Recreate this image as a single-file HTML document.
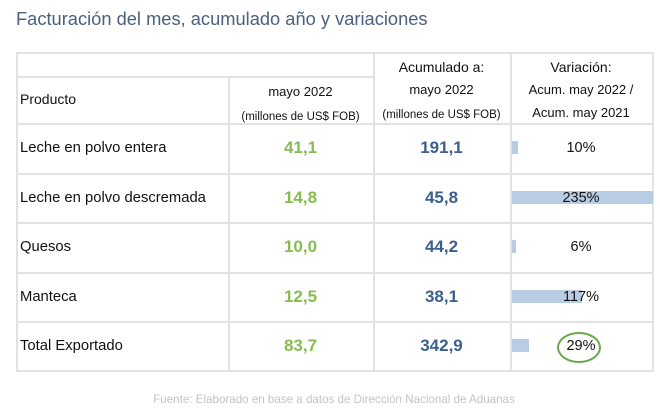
<!DOCTYPE html>
<html><head><meta charset="utf-8"><style>
body{margin:0;width:660px;height:413px;background:#fff;position:relative;overflow:hidden;font-family:"Liberation Sans",sans-serif}
.a{position:absolute}
.t{white-space:nowrap;color:#111}
.hl{position:absolute;height:2px;background:#e2e2e2}
.vl{position:absolute;width:2px;background:#e2e2e2}
.c{text-align:center}
</style></head><body>
<div class="a t" style="left:16px;top:8px;font-size:18.3px;color:#4b6080">Facturación del mes, acumulado año y variaciones</div>
<div id="tbl"></div>
<div class="a t c" style="left:0;width:668px;top:393px;font-size:11.6px;color:#c4c4c4">Fuente: Elaborado en base a datos de Dirección Nacional de Aduanas</div>
<script>
const products=["Leche en polvo entera","Leche en polvo descremada","Quesos","Manteca","Total Exportado"];
const monthValues=["41,1","14,8","10,0","12,5","83,7"];
const accumValues=["191,1","45,8","44,2","38,1","342,9"];
const variation=[10,235,6,117,29];
const tbl=document.getElementById('tbl');
function add(html){tbl.insertAdjacentHTML('beforeend',html);}
const L=16,R=652,cols=[228,373,510];
[52,370].forEach(y=>add(`<div class="hl" style="left:${L}px;width:${R-L}px;top:${y}px"></div>`));
add(`<div class="hl" style="left:${L}px;width:${cols[1]-L}px;top:76px"></div>`);
const rowTop=[123,173,222,272,321];
rowTop.forEach(y=>add(`<div class="hl" style="left:${L}px;width:${R-L}px;top:${y}px"></div>`));
[L,R].forEach(x=>add(`<div class="vl" style="left:${x}px;top:52px;height:320px"></div>`));
add(`<div class="vl" style="left:${cols[0]}px;top:76px;height:296px"></div>`);
[cols[1],cols[2]].forEach(x=>add(`<div class="vl" style="left:${x}px;top:52px;height:320px"></div>`));
add(`<div class="a t" style="left:20px;top:91px;font-size:14px">Producto</div>`);
add(`<div class="a t c" style="left:${cols[0]}px;width:${cols[1]-cols[0]}px;top:80px;font-size:13px;line-height:24px">mayo 2022<br><span style="font-size:11.5px">(millones de US$ FOB)</span></div>`);
add(`<div class="a t c" style="left:${cols[1]}px;width:${cols[2]-cols[1]}px;top:56px;font-size:14px;line-height:22px">Acumulado a:<br><span style="font-size:13px;line-height:24px">mayo 2022</span><br><span style="font-size:11.5px;line-height:20px">(millones de US$ FOB)</span></div>`);
add(`<div class="a t c" style="left:${cols[2]}px;width:${R-cols[2]}px;top:56px;font-size:14px;line-height:22px">Variación:<br><span style="font-size:13px;line-height:22px">Acum. may 2022 /<br>Acum. may 2021</span></div>`);
const maxV=235,barW=R-cols[2]-1;
products.forEach((p,i)=>{
  const cy=rowTop[i]+26;
  add(`<div class="a t" style="left:20px;top:${cy-9}px;font-size:14.8px">${p}</div>`);
  add(`<div class="a t c" style="left:${cols[0]}px;width:${cols[1]-cols[0]}px;top:${cy-11}px;font-size:17px;font-weight:bold;color:#86bd4e">${monthValues[i]}</div>`);
  add(`<div class="a t c" style="left:${cols[1]}px;width:${cols[2]-cols[1]}px;top:${cy-11}px;font-size:17px;font-weight:bold;color:#3c5f8e">${accumValues[i]}</div>`);
  const w=variation[i]/maxV*barW;
  add(`<div class="a" style="left:${cols[2]+2}px;top:${cy-8}px;width:${w}px;height:13px;background:#b8cce4"></div>`);
  add(`<div class="a t c" style="left:${cols[2]}px;width:${R-cols[2]}px;top:${cy-9}px;font-size:14.5px">${variation[i]}%</div>`);
  if(i===products.length-1) add(`<div class="a" style="left:557px;top:${cy-15}px;width:40px;height:27px;border:2px solid #6aa84f;border-radius:50%"></div>`);
});
</script>
</body></html>
